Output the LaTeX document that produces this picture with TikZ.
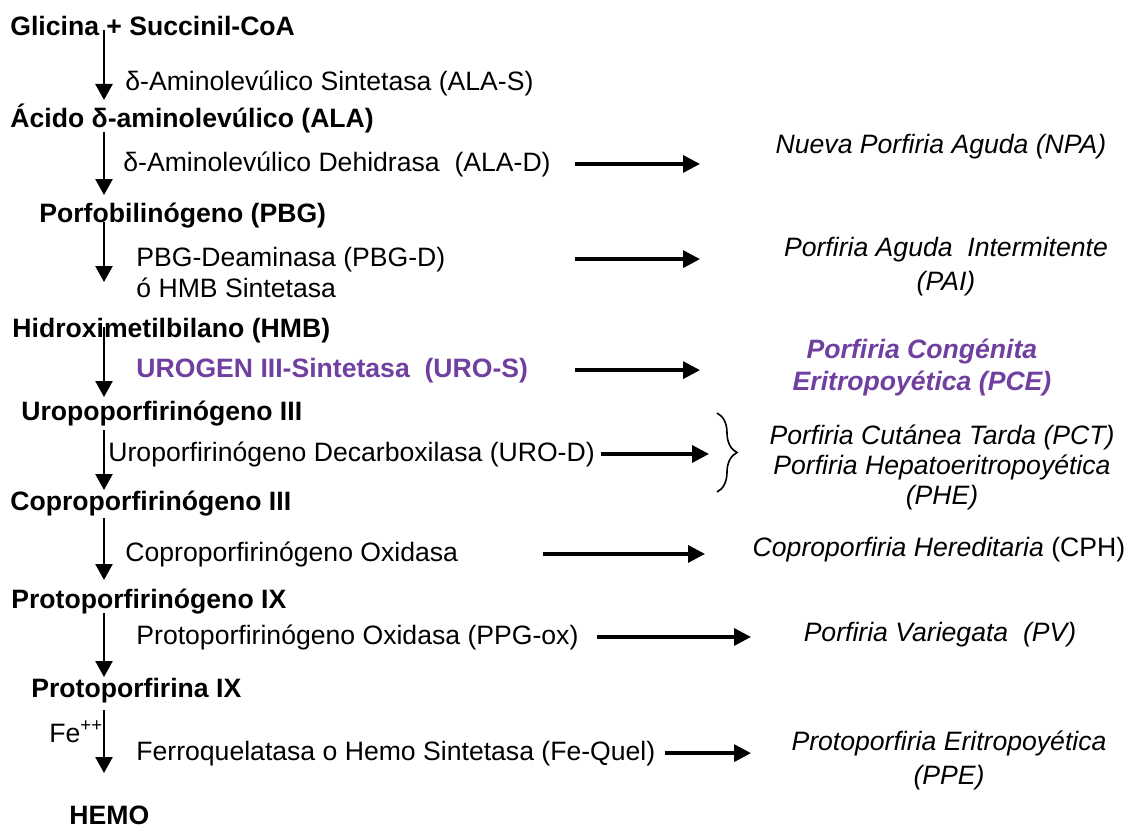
\documentclass[tikz,border=0pt]{standalone}
\usepackage{fontspec}
\setmainfont{Liberation Sans}
\usepackage{xcolor}
\usepackage{tikz}
\usetikzlibrary{arrows.meta,positioning,calc,decorations.pathreplacing}
\definecolor{urogen}{RGB}{112,64,160}
\tikzset{
	txt/.style={inner sep=0pt, font=\fontsize{13.3pt}{15pt}\selectfont},
	cmp/.style={txt, anchor=base west, font=\fontsize{13.3pt}{15pt}\selectfont\bfseries},
	enz/.style={txt, anchor=base west},
	dis/.style={txt, align=center, font=\fontsize{13.3pt}{15pt}\selectfont\itshape},
	varr/.style={line width=1.25pt, -{Triangle[length=8pt,width=8.5pt]}},
	harr/.style={line width=1.7pt, -{Triangle[length=8.5pt,width=8.5pt]}},
	brc/.style={line width=0.8pt, decorate, decoration={brace, amplitude=10pt}},
}

\begin{document}
\begin{tikzpicture}[x=0.5pt, y=-0.5pt]
	\useasboundingbox (0,0) rectangle (1130,829);
	% column of the pathway and columns of the side arrows
	\coordinate (col) at (104,0);
	\coordinate (ha) at (575,0);
	\coordinate (hb) at (700,0);
	\coordinate (hc) at (751,0);
	% compounds
	\node[cmp] at (10,36) (gly) {Glicina + Succinil-CoA};
	\node[cmp] at (10,127) (ala) {Ácido δ-aminolevúlico (ALA)};
	\node[cmp] at (39,222) (pbg) {Porfobilinógeno (PBG)};
	\node[cmp] at (12,337) (hmb) {Hidroximetilbilano (HMB)};
	\node[cmp] at (21,420) (uro) {Uropoporfirinógeno III};
	\node[cmp] at (10,510) (copro) {Coproporfirinógeno III};
	\node[cmp] at (11,608) (ppgen) {Protoporfirinógeno IX};
	\node[cmp] at (31,697) (proto) {Protoporfirina IX};
	\node[cmp] at (69,824) (hemo) {HEMO};
	% enzymes
	\node[enz] at (125,91) (alas) {δ-Aminolevúlico Sintetasa (ALA-S)};
	\node[enz] at (123,171) (alad) {δ-Aminolevúlico Dehidrasa\ \ (ALA-D)};
	\node[enz] at (136,266) (pbgd) {PBG-Deaminasa (PBG-D)};
	\node[enz] at (136,297) (hmbs) {ó HMB Sintetasa};
	\node[enz, font=\fontsize{13.3pt}{15pt}\selectfont\bfseries, text=urogen] at (136,377) (uros) {UROGEN III-Sintetasa\ \ (URO-S)};
	\node[enz] at (108,461) (urod) {Uroporfirinógeno Decarboxilasa (URO-D)};
	\node[enz] at (125,561) (coprox) {Coproporfirinógeno Oxidasa};
	\node[enz] at (136,644) (ppgox) {Protoporfirinógeno Oxidasa (PPG-ox)};
	\node[enz] at (49,742) (fe) {Fe\textsuperscript{++}};
	\node[enz] at (136,760) (fequel) {Ferroquelatasa o Hemo Sintetasa (Fe-Quel)};
	% porphyrias
	\node[dis, anchor=base] at (941,154) (npa) {Nueva Porfiria Aguda (NPA)};
	\node[dis] at (946,267) (pai) {Porfiria Aguda\ \ Intermitente\\[2pt](PAI)};
	\node[dis, font=\fontsize{13.3pt}{15pt}\selectfont\bfseries\itshape, text=urogen] at (922,368) (pce) {Porfiria Congénita\\[1pt]Eritropoyética (PCE)};
	\node[dis] at (942,467) (pct) {Porfiria Cutánea Tarda (PCT)\\Porfiria Hepatoeritropoyética\\(PHE)};
	\node[dis, anchor=base, font=\fontsize{13.3pt}{15pt}\selectfont] at (939,556) (cph) {\textit{Coproporfiria Hereditaria} (CPH)};
	\node[dis, anchor=base] at (940,641) (pv) {Porfiria Variegata\ \ (PV)};
	\node[dis] at (949,760) (ppe) {Protoporfiria Eritropoyética\\[2pt](PPE)};
	% pathway
	\draw[varr] ($(gly.base -| col)+(0,-6)$) -- ($(ala.base -| col)+(0,-27)$);
	\draw[varr] ($(ala.base -| col)+(0,5)$) -- ($(pbg.base -| col)+(0,-27)$);
	\draw[varr] ($(pbg.base -| col)+(0,0)$) -- ($(hmb.base -| col)+(0,-55)$);
	\draw[varr] ($(hmb.base -| col)+(0,-10)$) -- ($(uro.base -| col)+(0,-23)$);
	\draw[varr] ($(uro.base -| col)+(0,10)$) -- ($(copro.base -| col)+(0,-20)$);
	\draw[varr] ($(copro.base -| col)+(0,8)$) -- ($(ppgen.base -| col)+(0,-28)$);
	\draw[varr] ($(ppgen.base -| col)+(0,5)$) -- ($(proto.base -| col)+(0,-20)$);
	\draw[varr] ($(proto.base -| col)+(0,13)$) -- ($(hemo.base -| col)+(0,-51)$);
	% deficiencies
	\draw[harr] (alad.east -| ha) -- (alad.east -| hb);
	\draw[harr] (pbgd.east -| ha) -- (pbgd.east -| hb);
	\draw[harr] (uros.east -| ha) -- (uros.east -| hb);
	\draw[harr] ($(urod.east)+(6,0)$) -- ($(urod.east -| hb)+(9,0)$);
	\draw[harr] ($(coprox.east)+(84,0)$) -- ($(coprox.east -| hb)+(5,0)$);
	\draw[harr] ($(ppgox.east)+(18,0)$) -- (ppgox.east -| hc);
	\draw[harr] ($(fequel.east)+(9,0)$) -- (fequel.east -| hc);
	\coordinate (brT) at (717,413);
	\coordinate (brB) at (717,492);
	\draw[brc] (brT) -- (brB);
\end{tikzpicture}
\end{document}
